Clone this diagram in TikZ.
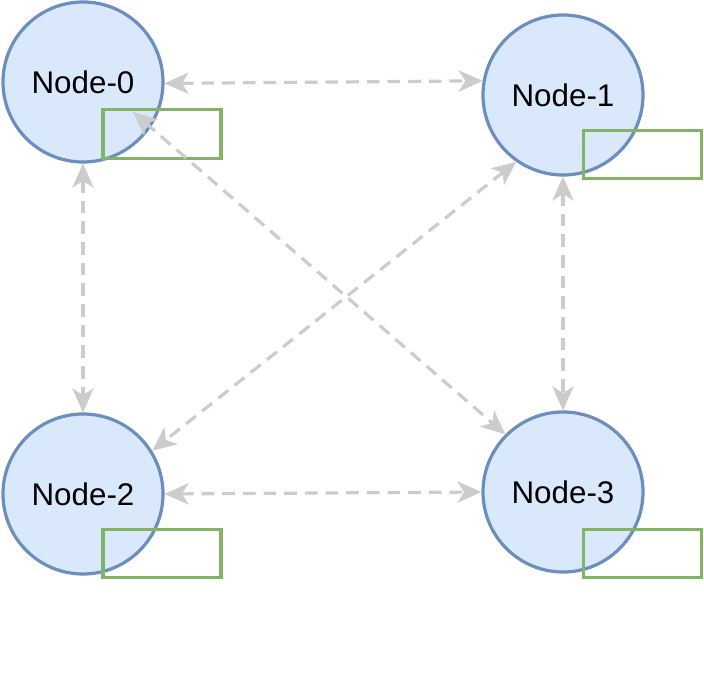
\documentclass[tikz,border=0pt]{standalone}
\usepackage{fontspec}
\setmainfont{Liberation Sans}
\usetikzlibrary{arrows.meta}
\definecolor{peerfill}{HTML}{DAE8FC}
\definecolor{peerline}{HTML}{6C8EBF}
\definecolor{tagline}{HTML}{82B366}
\definecolor{linkgray}{HTML}{CCCCCC}

\begin{document}
\begin{tikzpicture}[x=0.75pt,y=0.75pt,yscale=-1,xscale=1,
  peer/.style={circle,draw=peerline,fill=peerfill,line width=2.4pt,minimum size=120pt,inner sep=0pt,font=\fontsize{23.5}{27}\selectfont},
  tag/.style={draw=tagline,line width=2.4pt,minimum width=88.5pt,minimum height=36.5pt,inner sep=0pt},
  link/.style={draw=linkgray,line width=2.4pt,dash pattern=on 9.5pt off 6pt,>={Stealth[length=18pt,width=16pt,inset=5pt]},<->}]
\path[use as bounding box] (0,0) rectangle (704,684);

%Shape: Circle
\node[peer] (n0) at (83,82) {Node-0};
%Shape: Circle
\node[peer] (n1) at (563,95) {Node-1};
%Shape: Circle
\node[peer] (n2) at (83,494) {Node-2};
%Shape: Circle
\node[peer] (n3) at (563,492) {Node-3};

%Shape: Rectangle
\node[tag] (t0) at (162,134) {};
%Shape: Rectangle
\node[tag] (t1) at (642.5,154.5) {};
%Shape: Rectangle
\node[tag] (t2) at (162,553.5) {};
%Shape: Rectangle
\node[tag] (t3) at (642.5,553.5) {};

% Connector
\draw[link] (n0.-1) -- (n1.170);
\draw[link] (n0.south) -- (n2.north);
\draw[link] (n1.south) -- (n3.north);
\draw[link] (n2.east) -- (n3.west);
\coordinate (c0) at (133,112);
\draw[link] (c0) -- (n3.135);
\draw[link] (n1.-125) -- (n2.32);

\end{tikzpicture}
\end{document}
